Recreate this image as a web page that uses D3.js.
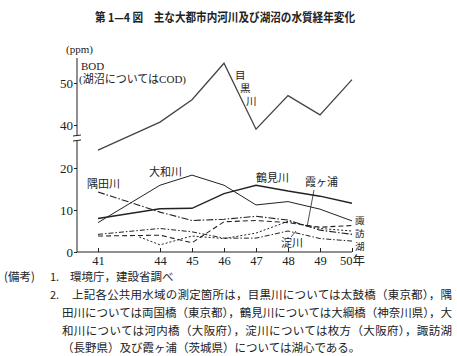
<!DOCTYPE html>
<html><head><meta charset="utf-8">
<script src="https://cdn.jsdelivr.net/npm/d3@7"></script>
<style>
body{margin:0;background:#fff;}
svg{display:block;}
text{font-family:"Liberation Serif","Noto Sans CJK JP",serif;fill:#222;}
.jp{font-family:"Noto Sans CJK JP",sans-serif;}
</style></head><body>
<svg id="c" width="457" height="356"></svg>
<script>
// ---- data ----
const years = [41, 44, 45, 46, 47, 48, 49, 50];
const xTickLabels = ["41", "44", "45", "46", "47", "48", "49", "50年"];
const yTicksLower = [0, 10, 20];
const yTicksUpper = [40, 50];
const meguro  = [34.0, 40.7, 46.0, 54.7, 39.0, 47.0, 42.4, 50.8];  // upper scale
const sumida  = [14.3, 9.5, 7.5, 7.8, 8.5, 7.6, 5.2, 4.2];
const tsurumi = [8.0, 10.3, 10.4, 13.9, 15.9, 14.5, 13.3, 11.6];
const yamato  = [7.0, 15.9, 18.3, 15.9, 11.2, 12.0, 10.2, 7.4];
const yodo    = [4.2, 5.6, 4.8, 3.3, 3.3, 5.0, 3.2, 2.6];
const suwa    = [3.8, 4.0, 2.2, 7.2, 7.5, 7.0, 5.9, 6.3];
const kasumiYears = [43, 44, 45, 46, 47, 48, 49, 50];
const kasumi  = [3.6, 1.7, 3.8, 3.2, 4.5, 7.3, 5.6, 5.0];

const title = "第 1—4 図　主な大都市内河川及び湖沼の水質経年変化";
const notes = [
  "上記各公共用水域の測定箇所は，目黒川については太鼓橋（東京都），隅",
  "田川については両国橋（東京都），鶴見川については大綱橋（神奈川県），大",
  "和川については河内橋（大阪府），淀川については枚方（大阪府），諏訪湖",
  "（長野県）及び霞ヶ浦（茨城県）については湖心である。"
];

// ---- chart ----
const svg = d3.select("#c");
const x = d3.scaleLinear().domain([41, 44, 50]).range([98, 160, 352]);
const yLow = d3.scaleLinear().domain([0, 20]).range([252, 168]);
const yUp = d3.scaleLinear().domain([40, 50]).range([125, 83]);
const axisX = 77;

svg.append("text").attr("class","jp").attr("x", 95).attr("y", 22)
  .attr("font-size",12).attr("font-weight","bold")
  .attr("textLength", 260).attr("lengthAdjust","spacingAndGlyphs")
  .text(title);

// y axis line with break
const g = svg.append("g").attr("stroke","#222").attr("fill","none");
g.append("line").attr("x1",axisX).attr("x2",axisX).attr("y1",yLow(0)).attr("y2",141);
g.append("line").attr("x1",axisX).attr("x2",axisX).attr("y1",136).attr("y2",58);
g.append("line").attr("x1",axisX-4).attr("x2",axisX+4).attr("y1",136).attr("y2",135);
g.append("line").attr("x1",axisX-4).attr("x2",axisX+4).attr("y1",141).attr("y2",140);

const yl = svg.append("g").attr("transform",`translate(${axisX},0)`)
  .call(d3.axisLeft(yLow).tickValues(yTicksLower).tickSize(3).tickPadding(1).tickSizeOuter(0));
const yu = svg.append("g").attr("transform",`translate(${axisX},0)`)
  .call(d3.axisLeft(yUp).tickValues(yTicksUpper).tickSize(3).tickPadding(1).tickSizeOuter(0));
[yl, yu].forEach(a => {
  a.select(".domain").remove();
  a.selectAll("text").attr("font-size",13).attr("font-family","Liberation Serif");
  a.selectAll("line").attr("stroke","#222");
});

// x axis
svg.append("line").attr("x1",axisX).attr("x2",x(50)).attr("y1",yLow(0)).attr("y2",yLow(0)).attr("stroke","#222");
const xa = svg.append("g").attr("transform",`translate(0,${yLow(0)})`)
  .call(d3.axisBottom(x).tickValues(years).tickSize(-4).tickPadding(4)
    .tickFormat((d,i) => xTickLabels[i]));
xa.select(".domain").remove();
xa.selectAll("line").attr("stroke","#222");
xa.selectAll("text").attr("font-size",12.5);

svg.append("text").attr("x",66).attr("y",53).attr("font-size",11).text("(ppm)");
svg.append("text").attr("x",81).attr("y",70).attr("font-size",11).text("BOD");
svg.append("text").attr("x",79).attr("y",83).attr("font-size",11).text("(湖沼についてはCOD)");

// lines
const lineLow = (xs) => d3.line().x((d,i)=>x(xs[i])).y(d=>yLow(d));
const lineUp = d3.line().x((d,i)=>x(years[i])).y(d=>yUp(d));
const plot = (path, data, w, dash) => svg.append("path").datum(data)
  .attr("d", path).attr("fill","none").attr("stroke","#222")
  .attr("stroke-width", w).attr("stroke-dasharray", dash);

plot(lineUp, meguro, 1.3, null).attr("stroke","#444");
plot(lineLow(years), tsurumi, 1.5, null);
plot(lineLow(years), yamato, 1.0, null);
plot(lineLow(years), sumida, 1.1, "7,2,1.5,2");
plot(lineLow(years), yodo, 1.0, "5,2,1.5,2");
plot(lineLow(years), suwa, 1.1, "5,3");
plot(lineLow(kasumiYears), kasumi, 1.0, "2,2");

// labels
const lab = (t, xx, yy, fs) => svg.append("text").attr("class","jp").attr("x",xx).attr("y",yy).attr("font-size",fs||11).text(t);
lab("目", 235, 79, 10.5); lab("黒", 240, 92, 10.5); lab("川", 246, 105, 10.5);
lab("大和川", 149, 176);
lab("隅田川", 87, 188);
lab("鶴見川", 256, 182);
lab("霞ヶ浦", 305, 186);
lab("淀川", 281, 247);
lab("諏", 355, 224, 9.5); lab("訪", 355, 237, 9.5); lab("湖", 355, 250, 9.5);
svg.append("line").attr("x1",314).attr("y1",190).attr("x2",307).attr("y2",227).attr("stroke","#222").attr("stroke-width",0.8);
svg.append("line").attr("x1",291).attr("y1",237).attr("x2",296).attr("y2",231).attr("stroke","#222").attr("stroke-width",0.8);

// notes
lab("(備考)", 4, 281, 11.5);
lab("1.", 50, 281, 11);
lab("環境庁，建設省調べ", 70, 281, 11.5);
lab("2.", 50, 299, 11);
const nx = [72, 62, 62, 62], ny = [299, 317, 335, 352];
notes.forEach((t,i) => {
  const s = lab(t, nx[i], ny[i], 11.5);
  if (i < 3) s.attr("textLength", 452 - nx[i]).attr("lengthAdjust","spacing");
});
</script>
</body></html>
